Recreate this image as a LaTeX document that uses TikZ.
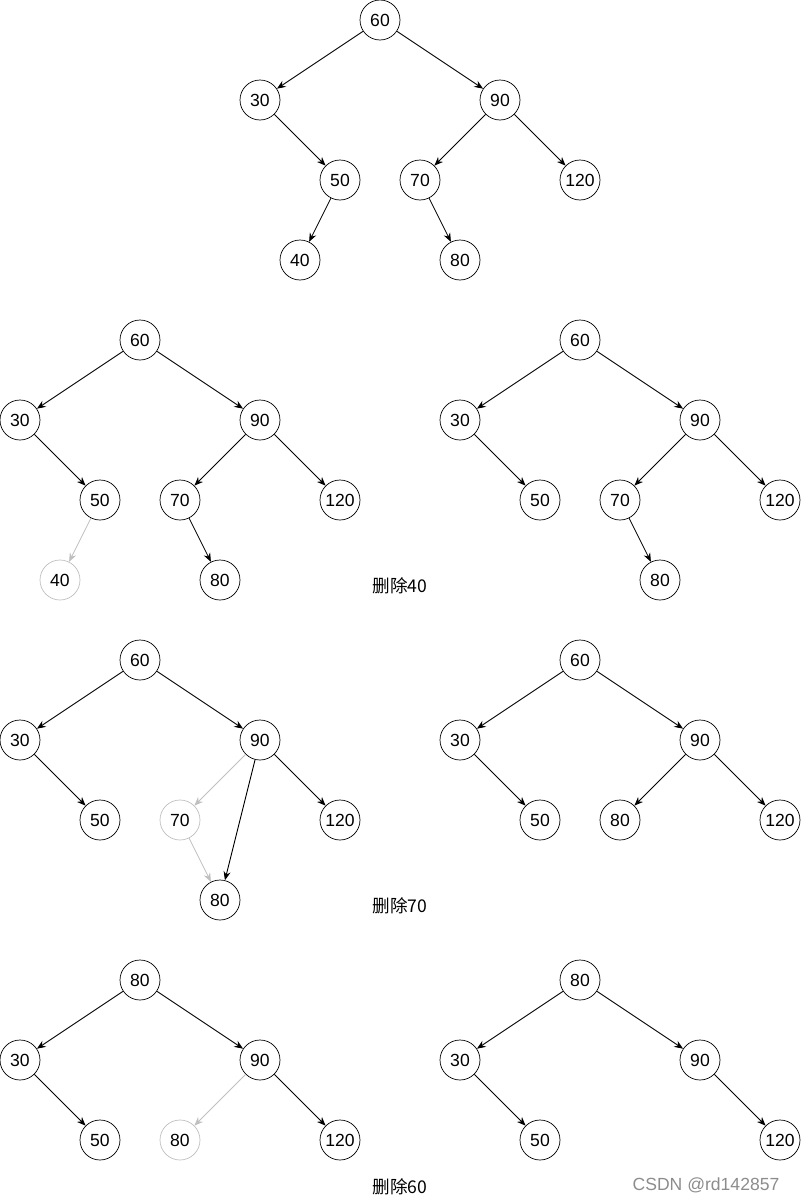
\documentclass[tikz,border=0pt]{standalone}
\usepackage{fontspec}
\setmainfont{Liberation Sans}
\newfontfamily\cjk{Noto Sans CJK SC}
\usetikzlibrary{arrows.meta}

\begin{document}
\begin{tikzpicture}[x=0.02cm,y=-0.02cm,%
  key/.style={circle,draw,minimum size=0.8cm,inner sep=0pt,font=\fontsize{10}{12}\selectfont},%
  gone/.style={key,draw=black!25},%
  link/.style={-{Stealth[length=5pt,width=4pt]},line width=0.5pt},%
  glink/.style={link,draw=black!25},%
  caption/.style={font=\cjk\fontsize{10}{12}\selectfont}]
\useasboundingbox (0,0) rectangle (801,1201);
% original tree
\node[key] (a60) at (380,20) {60};
\node[key] (a30) at (260,100) {30};
\node[key] (a90) at (500,100) {90};
\node[key] (a50) at (340,180) {50};
\node[key] (a70) at (420,180) {70};
\node[key] (a120) at (580,180) {120};
\node[key] (a40) at (300,260) {40};
\node[key] (a80) at (460,260) {80};
\foreach \p/\c in {a60/a30,a60/a90,a30/a50,a90/a70,a90/a120,a50/a40,a70/a80}
  \draw[link] (\p) -- (\c);
% delete 40
\node[key] (b60) at (140,340) {60};
\node[key] (b30) at (20,420) {30};
\node[key] (b90) at (260,420) {90};
\node[key] (b50) at (100,500) {50};
\node[key] (b70) at (180,500) {70};
\node[key] (b120) at (340,500) {120};
\node[gone] (b40) at (60,580) {40};
\node[key] (b80) at (220,580) {80};
\foreach \p/\c in {b60/b30,b60/b90,b30/b50,b90/b70,b90/b120,b70/b80}
  \draw[link] (\p) -- (\c);
\draw[glink] (b50) -- (b40);
\node[caption] (t40) at (400,586) {删除40};
\node[key] (c60) at (580,340) {60};
\node[key] (c30) at (460,420) {30};
\node[key] (c90) at (700,420) {90};
\node[key] (c50) at (540,500) {50};
\node[key] (c70) at (620,500) {70};
\node[key] (c120) at (780,500) {120};
\node[key] (c80) at (660,580) {80};
\foreach \p/\c in {c60/c30,c60/c90,c30/c50,c90/c70,c90/c120,c70/c80}
  \draw[link] (\p) -- (\c);
% delete 70
\node[key] (d60) at (140,660) {60};
\node[key] (d30) at (20,740) {30};
\node[key] (d90) at (260,740) {90};
\node[key] (d50) at (100,820) {50};
\node[gone] (d70) at (180,820) {70};
\node[key] (d120) at (340,820) {120};
\node[key] (d80) at (220,900) {80};
\foreach \p/\c in {d60/d30,d60/d90,d30/d50,d90/d120,d90/d80}
  \draw[link] (\p) -- (\c);
\draw[glink] (d90) -- (d70);
\draw[glink] (d70) -- (d80);
\node[caption] (t70) at (400,906) {删除70};
\node[key] (e60) at (580,660) {60};
\node[key] (e30) at (460,740) {30};
\node[key] (e90) at (700,740) {90};
\node[key] (e50) at (540,820) {50};
\node[key] (e80) at (620,820) {80};
\node[key] (e120) at (780,820) {120};
\foreach \p/\c in {e60/e30,e60/e90,e30/e50,e90/e80,e90/e120}
  \draw[link] (\p) -- (\c);
% delete 60
\node[key] (f80) at (140,980) {80};
\node[key] (f30) at (20,1060) {30};
\node[key] (f90) at (260,1060) {90};
\node[key] (f50) at (100,1140) {50};
\node[gone] (f80b) at (180,1140) {80};
\node[key] (f120) at (340,1140) {120};
\foreach \p/\c in {f80/f30,f80/f90,f30/f50,f90/f120}
  \draw[link] (\p) -- (\c);
\draw[glink] (f90) -- (f80b);
\node[caption] (t60) at (400,1187) {删除60};
\node[key] (g80) at (580,980) {80};
\node[key] (g30) at (460,1060) {30};
\node[key] (g90) at (700,1060) {90};
\node[key] (g50) at (540,1140) {50};
\node[key] (g120) at (780,1140) {120};
\foreach \p/\c in {g80/g30,g80/g90,g30/g50,g90/g120}
  \draw[link] (\p) -- (\c);
\node[font=\fontsize{10}{12}\selectfont,text=black!45] (mark) at (706,1185) {CSDN @rd142857};
\end{tikzpicture}
\end{document}
